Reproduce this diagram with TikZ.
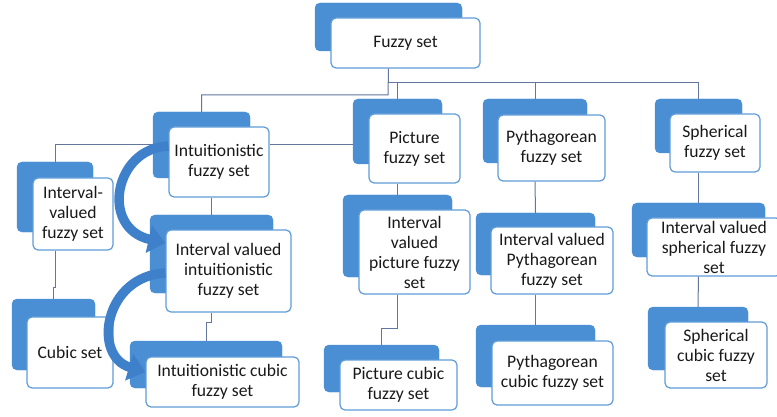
\documentclass[tikz,border=0pt]{standalone}
\usepackage{fontspec}
\setmainfont{Carlito}
\usetikzlibrary{arrows.meta}
\definecolor{backblue}{RGB}{74,142,212}
\definecolor{edgeblue}{RGB}{96,156,214}
\definecolor{linegray}{RGB}{98,118,158}
\definecolor{arrblue}{RGB}{62,128,202}
\newcommand{\fz}{\fontsize{17.6}{20}\selectfont}
\newcommand{\fzback}[5]{\node[backbox,minimum width={#4-#2},minimum height={#5-#3}] (#1) at ({(#2+#4)/2},{(#3+#5)/2}) {};}
\newcommand{\fzfront}[6]{\node[frontbox,minimum width={#4-#2},minimum height={#5-#3}] (#1) at ({(#2+#4)/2},{(#3+#5)/2}) {#6};}

\begin{document}
\begin{tikzpicture}
  [x=1pt,y=-1pt,
   backbox/.style={draw=backblue,fill=backblue,rounded corners=5pt,inner sep=0pt},
   frontbox/.style={draw=edgeblue,fill=white,line width=1.2pt,rounded corners=5pt,inner sep=0pt,align=center,font=\fz,text=black!90},
   link/.style={draw=linegray,line width=1pt},
   curvearrow/.style={draw=arrblue,line width=9.5pt,-{Triangle[length=17pt 0,width=27pt 0]}}]
  \fill[white] (0,0) rectangle (777,417);
  \useasboundingbox (0,0) rectangle (777,417);

  \fzback{fs-b}{315}{3}{462}{51}
  \fzfront{fs}{331}{18}{480}{68}{Fuzzy set}
  \fzback{ifs-b}{153}{112}{250}{178}
  \fzfront{ifs}{169}{127}{269}{197}{Intuitionistic\\fuzzy set}
  \fzback{pfs-b}{353}{99}{442}{164}
  \fzfront{pfs}{369}{114}{460}{183}{Picture\\fuzzy set}
  \fzback{pyfs-b}{483}{99}{587}{163}
  \fzfront{pyfs}{498}{115}{605}{181}{Pythagorean\\fuzzy set}
  \fzback{sfs-b}{655}{99}{742}{153}
  \fzfront{sfs}{670}{114}{760}{172}{Spherical\\fuzzy set}

  \fzback{ivfs-b}{17}{162}{93}{232}
  \fzfront{ivfs}{33}{178}{113}{250}{Interval-\\valued\\fuzzy set}
  \fzback{ivifs-b}{150}{215}{273}{293}
  \fzfront{ivifs}{166}{230}{291}{312}{Interval valued\\intuitionistic\\fuzzy set}
  \fzback{ivpfs-b}{343}{195}{452}{277}
  \fzfront{ivpfs}{359}{210}{470}{294}{Interval\\valued\\picture fuzzy\\set}
  \fzback{ivpyfs-b}{476}{213}{595}{275}
  \fzfront{ivpyfs}{491}{227}{613}{294}{Interval valued\\Pythagorean\\fuzzy set}
  \fzback{ivsfs-b}{632}{203}{765}{257}
  \fzfront{ivsfs}{647}{218}{781}{276}{Interval valued\\spherical fuzzy\\set}

  \fzback{cs-b}{12}{299}{95}{370}
  \fzfront{cs}{27}{317}{113}{388}{Cubic set}
  \fzback{icfs-b}{130}{341}{282}{388}
  \fzfront{icfs}{146}{357}{299}{407}{Intuitionistic cubic\\fuzzy set}
  \fzback{pcfs-b}{324}{345}{439}{392}
  \fzfront{pcfs}{340}{360}{457}{410}{Picture cubic\\fuzzy set}
  \fzback{pycfs-b}{476}{325}{595}{387}
  \fzfront{pycfs}{492}{341}{613}{405}{Pythagorean\\cubic fuzzy set}
  \fzback{scfs-b}{648}{307}{748}{370}
  \fzfront{scfs}{665}{322}{767}{388}{Spherical\\cubic fuzzy\\set}

  \coordinate (left) at (388,95);
  \coordinate (hub) at (388,83);
  \draw[link] (fs.south -| fs-b) -- (left) -| (ifs-b.north);
  \foreach \to in {pfs,pyfs,sfs}
    \draw[link] (hub) -| (\to-b.north);
  \draw[link] (ifs-b.west) -| (ivfs-b.north);
  \draw[link] (ifs.east |- ifs-b) -- (ifs-b -| pfs-b.west);
  \draw[link] (ifs.south -| ivifs-b) -- (ivifs-b.north);
  \draw[link] (ivifs.south -| ivifs-b) -- ++(0,10) -| (icfs-b.north);
  \draw[link] (ivfs.south -| ivfs-b) -- ++(0,37) -| (cs-b.north);
  \draw[link] (pfs.south -| pfs-b) -- (ivpfs-b.north);
  \draw[link] (ivpfs.south -| ivpfs-b) -- ++(0,34) -| (pcfs-b.north);
  \draw[link] (pyfs.south -| pyfs-b) -- (ivpyfs-b.north);
  \draw[link] (ivpyfs.south -| ivpyfs-b) -- (pycfs-b.north);
  \draw[link] (sfs.south -| sfs-b) -- (ivsfs-b.north);
  \draw[link] (ivsfs.south -| ivsfs-b) -- (scfs-b.north);

  \draw[curvearrow] (ifs.west |- 0,146) .. controls (114,148) and (100,228) .. (ivifs.west |- 0,243);
  \draw[curvearrow] (ivifs.west |- 0,273) .. controls (104,276) and (92,356) .. (icfs.west |- 0,372);
\end{tikzpicture}
\end{document}
